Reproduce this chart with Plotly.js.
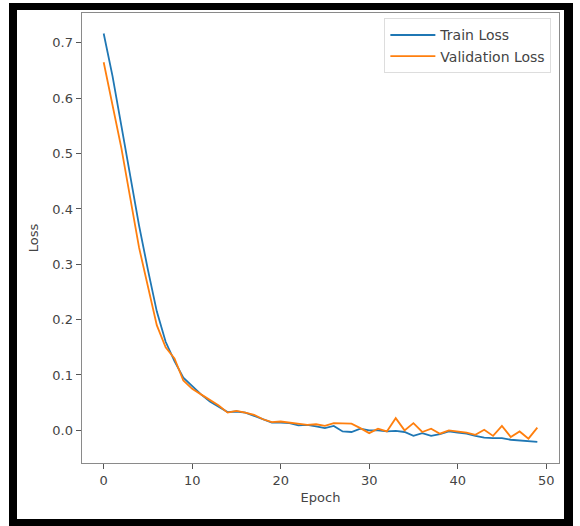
<!DOCTYPE html>
<html>
<head>
<meta charset="utf-8">
<script src="https://cdn.plot.ly/plotly-3.0.1.min.js"></script>
<style>
  html, body { margin: 0; padding: 0; background: #ffffff; overflow: hidden; }
  #chart { width: 580px; height: 526px; }
</style>
</head>
<body>
<div id="chart"></div>
<script>
const epochs = Array.from({length: 50}, (_, i) => i);
const trainLoss = [0.717, 0.64, 0.55, 0.46, 0.37, 0.29, 0.215, 0.16, 0.125, 0.095,
  0.08, 0.065, 0.052, 0.043, 0.033, 0.034, 0.032, 0.026, 0.02, 0.014,
  0.014, 0.013, 0.009, 0.01, 0.007, 0.004, 0.008, -0.002, -0.003, 0.003,
  0.0, 0.0, -0.002, -0.001, -0.003, -0.01, -0.005, -0.01, -0.007, -0.002,
  -0.004, -0.006, -0.01, -0.013, -0.014, -0.014, -0.017, -0.018, -0.019, -0.021];
const valLoss = [0.665, 0.59, 0.51, 0.42, 0.33, 0.26, 0.19, 0.15, 0.13, 0.09,
  0.075, 0.065, 0.055, 0.045, 0.032, 0.035, 0.032, 0.028, 0.02, 0.015,
  0.016, 0.014, 0.012, 0.01, 0.011, 0.008, 0.013, 0.012, 0.012, 0.004,
  -0.005, 0.003, -0.002, 0.022, 0.0, 0.013, -0.003, 0.003, -0.006, 0.0,
  -0.002, -0.004, -0.008, 0.001, -0.01, 0.008, -0.012, -0.002, -0.015, 0.005];
const xTicks = [0, 10, 20, 30, 40, 50];
const yTicks = [0.0, 0.1, 0.2, 0.3, 0.4, 0.5, 0.6, 0.7];
const yTickText = ['0.0', '0.1', '0.2', '0.3', '0.4', '0.5', '0.6', '0.7'];

const W = 580, H = 526;
const M = {l: 82, r: 21, t: 13, b: 63};
const pw = W - M.l - M.r, ph = H - M.t - M.b;
// convert a pixel position of the figure to paper coordinates (for the outer black frame)
const px = v => (v - M.l) / pw;
const py = v => (H - M.b - v) / ph;
function frameRect(x0, y0, x1, y1) {
  return {type: 'rect', xref: 'paper', yref: 'paper', layer: 'above',
    x0: px(x0), x1: px(x1), y0: py(y1), y1: py(y0),
    fillcolor: '#000000', line: {width: 0}};
}

const traces = [
  {x: epochs, y: trainLoss, type: 'scatter', mode: 'lines', name: 'Train Loss',
   line: {color: '#1f77b4', width: 1.8}},
  {x: epochs, y: valLoss, type: 'scatter', mode: 'lines', name: 'Validation Loss',
   line: {color: '#ff7f0e', width: 1.8}}
];

const axisCommon = {
  showline: true, mirror: true, linecolor: '#8a8a8a', linewidth: 1.4,
  showgrid: false, zeroline: false,
  ticks: 'outside', ticklen: 5, tickwidth: 1, tickcolor: '#555',
  tickfont: {family: 'DejaVu Sans', size: 13, color: '#444'}
};

const layout = {
  width: W, height: H,
  margin: M,
  paper_bgcolor: '#ffffff', plot_bgcolor: '#ffffff',
  font: {family: 'DejaVu Sans', size: 13, color: '#444'},
  xaxis: Object.assign({}, axisCommon, {
    range: [-2.45, 51.45], tickvals: xTicks,
    title: {text: 'Epoch', font: {family: 'DejaVu Sans', size: 13, color: '#444'}, standoff: 6}
  }),
  yaxis: Object.assign({}, axisCommon, {
    range: [-0.059, 0.754], tickvals: yTicks, ticktext: yTickText,
    title: {text: 'Loss', font: {family: 'DejaVu Sans', size: 13, color: '#444'}, standoff: 10}
  }),
  legend: {
    x: 0.984, y: 0.988, xanchor: 'right', yanchor: 'top',
    bgcolor: 'rgba(255,255,255,0.8)', bordercolor: '#dddddd', borderwidth: 1,
    font: {family: 'DejaVu Sans', size: 14, color: '#444'},
    tracegroupgap: 0, itemwidth: 45
  },
  showlegend: true,
  shapes: [
    frameRect(9, 3, 17, 530),
    frameRect(9, 3, 573, 10),
    frameRect(564, 3, 573, 530),
    frameRect(9, 519, 573, 530)
  ]
};

Plotly.newPlot('chart', traces, layout, {displayModeBar: false, staticPlot: true});
</script>
</body>
</html>
